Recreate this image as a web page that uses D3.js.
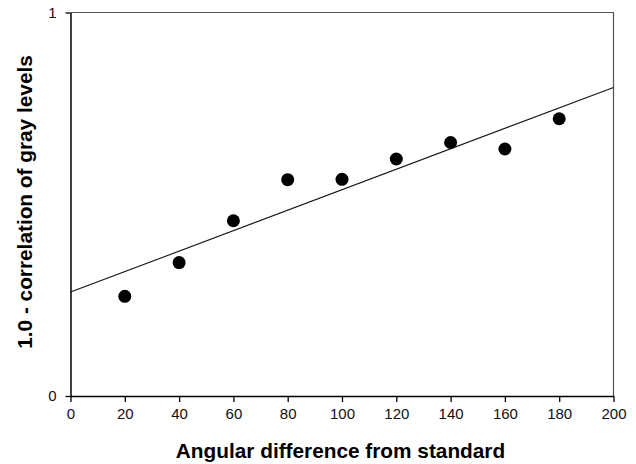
<!DOCTYPE html>
<html>
<head>
<meta charset="utf-8">
<script src="https://cdn.jsdelivr.net/npm/d3@7"></script>
<style>
  html, body { margin: 0; padding: 0; background: #fff; }
  svg { display: block; }
  .tick-label { font-family: "Liberation Sans", Arial, sans-serif; font-size: 15px; fill: #111; }
  .axis-title { font-family: "Liberation Sans", Arial, sans-serif; font-size: 20.8px; font-weight: bold; fill: #000; }
</style>
</head>
<body>
<svg id="chart" width="636" height="464"></svg>
<script>
// Angular difference from the standard orientation (degrees)
const angles = [20, 40, 60, 80, 100, 120, 140, 160, 180];
// 1.0 minus the correlation of gray levels at each angle
const dissimilarity = [0.260, 0.348, 0.457, 0.564, 0.565, 0.618, 0.661, 0.644, 0.723];
// Axis ticks
const xTicks = [0, 20, 40, 60, 80, 100, 120, 140, 160, 180, 200];
const yTicks = [0, 1];

const W = 636, H = 464;
const margin = { left: 70.5, right: 22.5, top: 12.5, bottom: 68 };

const svg = d3.select("#chart");

const x = d3.scaleLinear().domain([0, 200]).range([margin.left, W - margin.right]);
const y = d3.scaleLinear().domain([0, 1]).range([H - margin.bottom, margin.top]);

// Frame: top and right edges in grey
svg.append("path")
  .attr("d", `M${x(0)},${y(1)}H${x(200)}V${y(0)}`)
  .attr("fill", "none").attr("stroke", "#555").attr("stroke-width", 1.2);

// Bottom axis
const xAxis = svg.append("g")
  .attr("transform", `translate(0,${y(0)})`)
  .call(d3.axisBottom(x).tickValues(xTicks).tickSize(6).tickPadding(6).tickSizeOuter(0));
xAxis.select(".domain").attr("stroke", "#000").attr("stroke-width", 1.5);
xAxis.selectAll(".tick line").attr("stroke", "#000").attr("stroke-width", 1.3);
xAxis.selectAll(".tick text").attr("class", "tick-label").attr("font-family", null).attr("font-size", null);

// Left axis
const yAxis = svg.append("g")
  .attr("transform", `translate(${x(0)},0)`)
  .call(d3.axisLeft(y).tickValues(yTicks).tickFormat(d3.format("d")).tickSize(5).tickPadding(9).tickSizeOuter(0));
yAxis.select(".domain").attr("stroke", "#000").attr("stroke-width", 1.5);
yAxis.selectAll(".tick line").attr("stroke", "#000").attr("stroke-width", 1.3);
yAxis.selectAll(".tick text").attr("class", "tick-label").attr("font-family", null).attr("font-size", null);

// Least-squares trend line across the full x range
const mx = d3.mean(angles), my = d3.mean(dissimilarity);
const sxy = d3.sum(angles, (a, i) => (a - mx) * (dissimilarity[i] - my));
const sxx = d3.sum(angles, a => (a - mx) * (a - mx));
const slope = sxy / sxx, intercept = my - slope * mx;
const fitX = [0, 200];
svg.append("path")
  .datum(fitX)
  .attr("d", d3.line().x(d => x(d)).y(d => y(intercept + slope * d)))
  .attr("fill", "none").attr("stroke", "#111").attr("stroke-width", 1.1);

// Data points
svg.append("g").selectAll("circle")
  .data(angles.map((a, i) => [a, dissimilarity[i]]))
  .join("circle")
  .attr("cx", d => x(d[0]))
  .attr("cy", d => y(d[1]))
  .attr("r", 6.5)
  .attr("fill", "#000");

// Axis titles
svg.append("text")
  .attr("class", "axis-title")
  .attr("x", 340.5).attr("y", 458)
  .attr("text-anchor", "middle")
  .text("Angular difference from standard");

svg.append("text")
  .attr("class", "axis-title")
  .attr("transform", "translate(32,202) rotate(-90)")
  .attr("text-anchor", "middle")
  .text("1.0 - correlation of gray levels");
</script>
</body>
</html>
